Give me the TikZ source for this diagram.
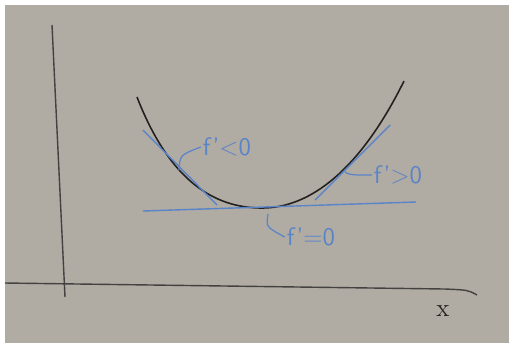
\documentclass[tikz,border=0pt]{standalone}
\usepackage{xcolor}
\usepackage{tikz}
\usetikzlibrary{positioning}
\definecolor{board}{RGB}{176,171,163}
\definecolor{marker}{RGB}{90,132,200}
\definecolor{ink}{RGB}{35,33,32}

\begin{document}
\begin{tikzpicture}[x=0.02cm, y=-0.02cm,
  axis/.style={draw=ink!85, line width=0.8pt},
  curve/.style={draw=ink, line width=0.9pt},
  tang/.style={draw=marker, line width=0.8pt},
  hook/.style={draw=marker, line width=0.7pt},
  lbl/.style={text=marker, font=\sffamily\Large, inner sep=1pt}
]

%--- board ---
\fill[white] (0,0) rectangle (509,346);
\fill[board] (5,5) rectangle (509,343);
\useasboundingbox (0,0) rectangle (509,346);

%--- axes ---
\coordinate (ytop) at (52,25);
\coordinate (ybot) at (65,297);
\coordinate (xleft) at (5,283);
\coordinate (xright) at (477,295);
\draw[axis] (ytop) -- (ybot);
\draw[axis] (xleft) -- (445,289) .. controls (468,290) .. (xright);
\node[font=\Large, text=ink] (xlab) at (443,311) {x};

%--- function ---
\draw[curve] (137,97) .. controls (170,182) and (215,208) .. (262,208)
  .. controls (310,208) and (360,170) .. (404,81);

%--- tangents ---
\coordinate (tl1) at (143,130);
\coordinate (tl2) at (217,205);
\coordinate (tr1) at (315,200);
\coordinate (tr2) at (390,125);
\coordinate (th1) at (143,211);
\coordinate (th2) at (416,202);
\draw[tang] (tl1) -- (tl2);
\draw[tang] (tr1) -- (tr2);
\draw[tang] (th1) -- (th2);

%--- labels ---
\node[lbl] (neg) at (227,147) {f'<0};
\node[lbl] (pos) at (398,175) {f'>0};
\node[lbl] (zero) at (311,237) {f'=0};
\coordinate (negpt) at (179,170);
\coordinate (pospt) at (345,172);
\coordinate (zeropt) at (268,214);
\draw[hook] (negpt) .. controls (180,155) .. (neg.west);
\draw[hook] (pospt) .. controls (350,175) .. (pos.west);
\draw[hook] (zeropt) .. controls (266,227) .. (zero.west);
\end{tikzpicture}
\end{document}
